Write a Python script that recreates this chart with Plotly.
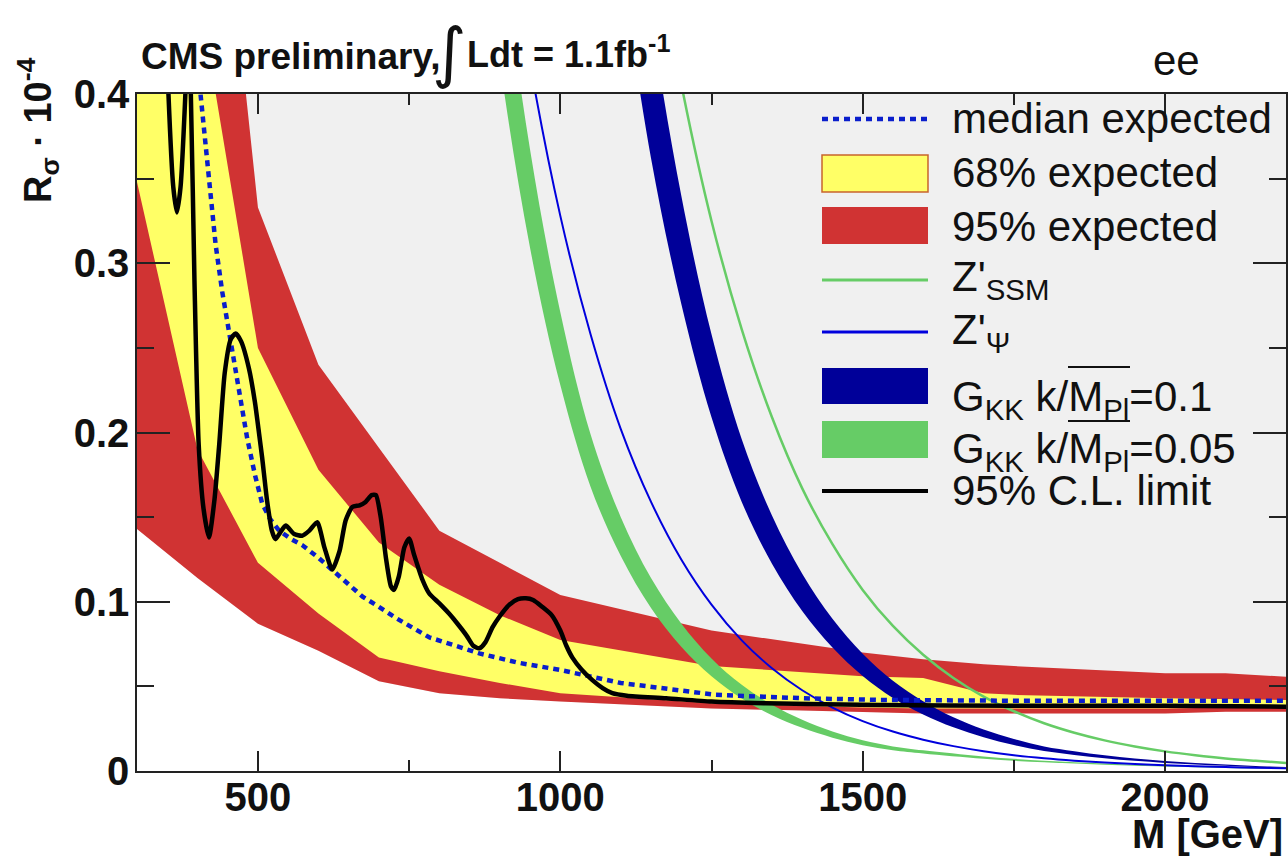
import plotly.graph_objects as go

# ---------------- data ----------------
band_mass = [300, 400, 500, 600, 700, 800, 900, 1000, 1250, 1500, 1600, 1700, 1750, 2000, 2100, 2200]
red_upper = [1.00, 0.67, 0.333, 0.240, 0.191, 0.142, 0.123, 0.104, 0.083, 0.070, 0.066, 0.063, 0.0620, 0.0577, 0.0577, 0.0557]
yellow_upper = [0.68, 0.464, 0.250, 0.178, 0.135, 0.110, 0.092, 0.0774, 0.062, 0.056, 0.055, 0.046, 0.045, 0.043, 0.0425, 0.042]
yellow_lower = [0.348, 0.190, 0.123, 0.093, 0.067, 0.059, 0.052, 0.046, 0.040, 0.0375, 0.037, 0.037, 0.037, 0.037, 0.0375, 0.038]
red_lower = [0.143, 0.114, 0.087, 0.071, 0.053, 0.046, 0.043, 0.041, 0.037, 0.035, 0.034, 0.034, 0.034, 0.034, 0.035, 0.035]

median_mass = [360, 380, 405, 420, 430, 441, 452, 468, 482, 495, 507, 520, 535, 555, 573, 600, 623, 650,
               673, 700, 730, 783, 866, 930, 1000, 1100, 1257, 1400, 1527, 1750, 2000, 2200]
median_exp = [0.62, 0.50, 0.40, 0.345, 0.311, 0.283, 0.259, 0.228, 0.197, 0.175, 0.158, 0.149, 0.142, 0.137,
              0.1335, 0.126, 0.119, 0.110, 0.103, 0.097, 0.090, 0.079, 0.0695, 0.064, 0.0597, 0.052, 0.045,
              0.043, 0.042, 0.0415, 0.0415, 0.0415]

obs_mass = [300, 330, 345, 352, 360, 366, 372, 380, 384, 389, 395, 402, 410, 419, 428, 436, 445, 455, 463,
            472, 485, 495, 502, 507, 515, 523, 529, 537, 546, 560, 573, 585, 598, 610, 623, 635, 645, 656,
            668, 678, 688, 695, 703, 712, 720, 725, 733, 742, 750, 758, 772, 783, 800, 816, 830, 845, 856,
            866, 876, 888, 899, 915, 930, 943, 955, 970, 986, 1000, 1010, 1020, 1035, 1053, 1070, 1086,
            1110, 1175, 1250, 1340, 1527, 1750, 2000, 2200]
obs_limit = [1.2, 0.75, 0.48, 0.40, 0.345, 0.330, 0.345, 0.40, 0.44, 0.40, 0.29, 0.193, 0.155, 0.138, 0.160,
             0.193, 0.235, 0.255, 0.2585, 0.254, 0.238, 0.218, 0.199, 0.185, 0.160, 0.142, 0.137, 0.141,
             0.145, 0.140, 0.139, 0.142, 0.147, 0.132, 0.119, 0.130, 0.148, 0.156, 0.157, 0.159, 0.163,
             0.163, 0.150, 0.125, 0.109, 0.107, 0.115, 0.132, 0.1374, 0.128, 0.113, 0.105, 0.099, 0.093,
             0.087, 0.080, 0.074, 0.0725, 0.076, 0.085, 0.091, 0.098, 0.1015, 0.102, 0.101, 0.097, 0.092,
             0.083, 0.074, 0.067, 0.060, 0.0537, 0.049, 0.046, 0.0445, 0.043, 0.041, 0.040, 0.039, 0.0385,
             0.0385, 0.038]

ssm_mass = [1150, 1200, 1250, 1300, 1350, 1400, 1450, 1500, 1550, 1600, 1650, 1700, 1750, 1800, 1850,
            1900, 1950, 2000, 2050, 2100, 2150, 2200]
zprime_ssm = [0.507, 0.406, 0.325, 0.261, 0.209, 0.167, 0.134, 0.107, 0.0857, 0.0687, 0.055, 0.044, 0.0353,
              0.0282, 0.0226, 0.0181, 0.0145, 0.0116, 0.0093, 0.0074, 0.0060, 0.0048]

psi_mass = [900, 950, 1000, 1050, 1100, 1150, 1200, 1250, 1300, 1350, 1400, 1450, 1500, 1550, 1600, 1650,
            1700, 1750, 1800, 1850, 1900, 1950, 2000, 2050, 2100, 2150, 2200]
zprime_psi = [0.532, 0.418, 0.328, 0.258, 0.202, 0.159, 0.125, 0.0983, 0.0772, 0.0607, 0.0477, 0.0375,
              0.0295, 0.0233, 0.0185, 0.0147, 0.0117, 0.0093, 0.0075, 0.0061, 0.0050, 0.0041, 0.0034,
              0.0028, 0.0023, 0.0019, 0.0016]

gkk005_mass = [850, 900, 950, 1000, 1050, 1100, 1150, 1200, 1250, 1300, 1350, 1400, 1450, 1500, 1550,
               1600, 1700, 1800, 1900, 2000, 2100, 2200]
gkk005_upper = [0.676, 0.498, 0.367, 0.271, 0.199, 0.150, 0.114, 0.0872, 0.0665, 0.0509, 0.0392, 0.0303,
                0.0234, 0.0181, 0.0145, 0.0122, 0.0086, 0.0061, 0.0044, 0.0031, 0.0022, 0.0015]
gkk005_lower = [0.569, 0.419, 0.309, 0.228, 0.168, 0.127, 0.0963, 0.0734, 0.056, 0.0428, 0.0330, 0.0255,
                0.0197, 0.0152, 0.0122, 0.0103, 0.0072, 0.0051, 0.0037, 0.0026, 0.0018, 0.0013]

gkk01_mass = [1100, 1150, 1200, 1250, 1300, 1350, 1400, 1450, 1500, 1550, 1600, 1650, 1700, 1750, 1800,
              1850, 1900, 1950, 2000, 2050, 2100, 2150, 2200]
gkk01_upper = [0.587, 0.446, 0.340, 0.258, 0.196, 0.151, 0.1166, 0.0899, 0.0693, 0.0533, 0.0412, 0.0317,
               0.0245, 0.0189, 0.0145, 0.0117, 0.0093, 0.0074, 0.0059, 0.0048, 0.0038, 0.0030, 0.0024]
gkk01_lower = [0.477, 0.362, 0.276, 0.209, 0.159, 0.1225, 0.0946, 0.0730, 0.0562, 0.0432, 0.0334, 0.0258,
               0.0199, 0.0153, 0.0118, 0.0095, 0.0076, 0.0060, 0.0048, 0.0039, 0.0031, 0.0024, 0.0020]

x_tick_vals = [500, 1000, 1500, 2000]
x_tick_text = ["500", "1000", "1500", "2000"]
x_minor_vals = [750, 1250, 1750]
y_tick_vals = [0, 0.1, 0.2, 0.3, 0.4]
y_tick_text = ["0", "0.1", "0.2", "0.3", "0.4"]
y_minor_vals = [0.05, 0.15, 0.25, 0.35]

legend_labels = [
    "median expected",
    "68% expected",
    "95% expected",
    "Z'<sub>SSM</sub>",
    "Z'<sub>Ψ</sub>",
    "G<sub>KK</sub> k/M<sub>Pl</sub>=0.1",
    "G<sub>KK</sub> k/M<sub>Pl</sub>=0.05",
    "95% C.L. limit",
]

# ---------------- styles ----------------
RED = "#d03333"
YELLOW = "#ffff66"
GREEN = "#66cc66"
NAVY = "#000099"
BLUE = "#0000dd"
DOTBLUE = "#0a1ecc"
FONT = "Liberation Sans"

W, H = 1288, 856
L, R, T, B = 137, 2, 94, 85
PW, PH = W - L - R, H - T - B


def px_x(p):
    return (p - L) / PW


def px_y(p):
    return (H - B - p) / PH


fig = go.Figure()

# white region below the 95% band, then the 95% band
fig.add_trace(go.Scatter(x=band_mass, y=red_lower, mode="lines", line=dict(width=0, color=RED),
                         fill="tozeroy", fillcolor="white", hoverinfo="skip"))
fig.add_trace(go.Scatter(x=band_mass, y=red_upper, mode="lines", line=dict(width=0, color=RED),
                         fill="tonexty", fillcolor=RED, hoverinfo="skip"))
# 68% band
fig.add_trace(go.Scatter(x=band_mass, y=yellow_lower, mode="lines", line=dict(width=0, color=YELLOW),
                         hoverinfo="skip"))
fig.add_trace(go.Scatter(x=band_mass, y=yellow_upper, mode="lines", line=dict(width=0, color=YELLOW),
                         fill="tonexty", fillcolor=YELLOW, hoverinfo="skip"))
# G_KK k=0.05 band
fig.add_trace(go.Scatter(x=gkk005_mass, y=gkk005_lower, mode="lines",
                         line=dict(width=0, color=GREEN, shape="spline"), hoverinfo="skip"))
fig.add_trace(go.Scatter(x=gkk005_mass, y=gkk005_upper, mode="lines",
                         line=dict(width=0, color=GREEN, shape="spline"),
                         fill="tonexty", fillcolor=GREEN, hoverinfo="skip"))
# Z' psi
fig.add_trace(go.Scatter(x=psi_mass, y=zprime_psi, mode="lines",
                         line=dict(width=2, color=BLUE, shape="spline")))
# G_KK k=0.1 band
fig.add_trace(go.Scatter(x=gkk01_mass, y=gkk01_lower, mode="lines",
                         line=dict(width=0, color=NAVY, shape="spline"), hoverinfo="skip"))
fig.add_trace(go.Scatter(x=gkk01_mass, y=gkk01_upper, mode="lines",
                         line=dict(width=0, color=NAVY, shape="spline"),
                         fill="tonexty", fillcolor=NAVY, hoverinfo="skip"))
# Z' SSM
fig.add_trace(go.Scatter(x=ssm_mass, y=zprime_ssm, mode="lines",
                         line=dict(width=2.5, color=GREEN, shape="spline")))
# median expected
fig.add_trace(go.Scatter(x=median_mass, y=median_exp, mode="lines",
                         line=dict(width=4.5, color=DOTBLUE, dash="6px,5px")))
# observed limit
fig.add_trace(go.Scatter(x=obs_mass, y=obs_limit, mode="lines",
                         line=dict(width=4.5, color="black", shape="spline", smoothing=0.6)))

# ---------------- legend (drawn by hand) ----------------
shapes = []
lx0, lx1 = px_x(822), px_x(928)
shapes.append(dict(type="line", xref="paper", yref="paper", x0=lx0, x1=lx1, y0=px_y(119), y1=px_y(119),
                   line=dict(color=DOTBLUE, width=4.5, dash="6px,5px")))
shapes.append(dict(type="rect", xref="paper", yref="paper", x0=lx0, x1=lx1, y0=px_y(192), y1=px_y(155),
                   fillcolor=YELLOW, line=dict(color="#c8642d", width=1.5)))
shapes.append(dict(type="rect", xref="paper", yref="paper", x0=lx0, x1=lx1, y0=px_y(244), y1=px_y(207),
                   fillcolor=RED, line=dict(width=0)))
shapes.append(dict(type="line", xref="paper", yref="paper", x0=lx0, x1=lx1, y0=px_y(280), y1=px_y(280),
                   line=dict(color=GREEN, width=3)))
shapes.append(dict(type="line", xref="paper", yref="paper", x0=lx0, x1=lx1, y0=px_y(332), y1=px_y(332),
                   line=dict(color=BLUE, width=3)))
shapes.append(dict(type="rect", xref="paper", yref="paper", x0=lx0, x1=lx1, y0=px_y(404), y1=px_y(368),
                   fillcolor=NAVY, line=dict(width=0)))
shapes.append(dict(type="rect", xref="paper", yref="paper", x0=lx0, x1=lx1, y0=px_y(458), y1=px_y(421),
                   fillcolor=GREEN, line=dict(width=0)))
shapes.append(dict(type="line", xref="paper", yref="paper", x0=lx0, x1=lx1, y0=px_y(491), y1=px_y(491),
                   line=dict(color="black", width=4)))
# overlines on M_Pl
for yy in (367, 421):
    shapes.append(dict(type="line", xref="paper", yref="paper", x0=px_x(1068), x1=px_x(1130),
                       y0=px_y(yy), y1=px_y(yy), line=dict(color="#111", width=2)))

text_y = [118, 173, 226, 279, 332, 399, 451, 491]
annotations = []
for lab, ty in zip(legend_labels, text_y):
    annotations.append(dict(text=lab, xref="paper", yref="paper", x=px_x(950), y=px_y(ty),
                            xanchor="left", yanchor="middle", showarrow=False,
                            font=dict(family=FONT, size=42, color="#111")))

# header texts
annotations.append(dict(text="CMS preliminary,", xref="paper", yref="paper", x=px_x(139), y=px_y(57),
                        xanchor="left", yanchor="middle", showarrow=False,
                        font=dict(family=FONT, size=37, color="#111", weight="bold")))
annotations.append(dict(text="∫", xref="paper", yref="paper", x=px_x(449), y=px_y(53),
                        xanchor="center", yanchor="middle", showarrow=False,
                        font=dict(family="DejaVu Sans", size=66, color="#111")))
annotations.append(dict(text="Ldt = 1.1fb<sup>-1</sup>", xref="paper", yref="paper", x=px_x(465), y=px_y(52),
                        xanchor="left", yanchor="middle", showarrow=False,
                        font=dict(family=FONT, size=36, color="#111", weight="bold")))
annotations.append(dict(text="ee", xref="paper", yref="paper", x=px_x(1176), y=px_y(60),
                        xanchor="center", yanchor="middle", showarrow=False,
                        font=dict(family=FONT, size=42, color="#111")))
# axis titles
annotations.append(dict(text="M [GeV]", xref="paper", yref="paper", x=px_x(1285), y=px_y(834),
                        xanchor="right", yanchor="middle", showarrow=False,
                        font=dict(family=FONT, size=40, color="#111", weight="bold")))
annotations.append(dict(text="R<sub>σ</sub> · 10<sup>-4</sup>", xref="paper", yref="paper",
                        x=px_x(38), y=px_y(130), xanchor="center", yanchor="middle", textangle=-90,
                        showarrow=False, font=dict(family=FONT, size=38, color="#111", weight="bold")))

axis_common = dict(ticks="inside", tickwidth=1.5, tickcolor="#222", showline=True, linecolor="#222",
                   linewidth=1.5, mirror="allticks", showgrid=False, zeroline=False,
                   tickfont=dict(family=FONT, size=40, color="#111", weight="bold"))

fig.update_layout(
    width=W, height=H,
    margin=dict(l=L, r=R, t=T, b=B, autoexpand=False),
    paper_bgcolor="white", plot_bgcolor="#f0f0f0",
    showlegend=False,
    shapes=shapes, annotations=annotations,
    xaxis=dict(range=[300, 2200], tickvals=x_tick_vals, ticktext=x_tick_text, ticklen=20,
               ticklabelstandoff=-10,
               minor=dict(tickvals=x_minor_vals, ticks="inside", ticklen=11, tickwidth=1.5,
                          tickcolor="#222", showgrid=False),
               **axis_common),
    yaxis=dict(range=[0, 0.4], tickvals=y_tick_vals, ticktext=y_tick_text, ticklen=33,
               ticklabelstandoff=-2,
               minor=dict(tickvals=y_minor_vals, ticks="inside", ticklen=17, tickwidth=1.5,
                          tickcolor="#222", showgrid=False),
               **axis_common),
)

fig.write_html("out.html", config={"displayModeBar": False},
               post_script="document.body.style.margin='0';document.body.style.overflow='hidden';")
